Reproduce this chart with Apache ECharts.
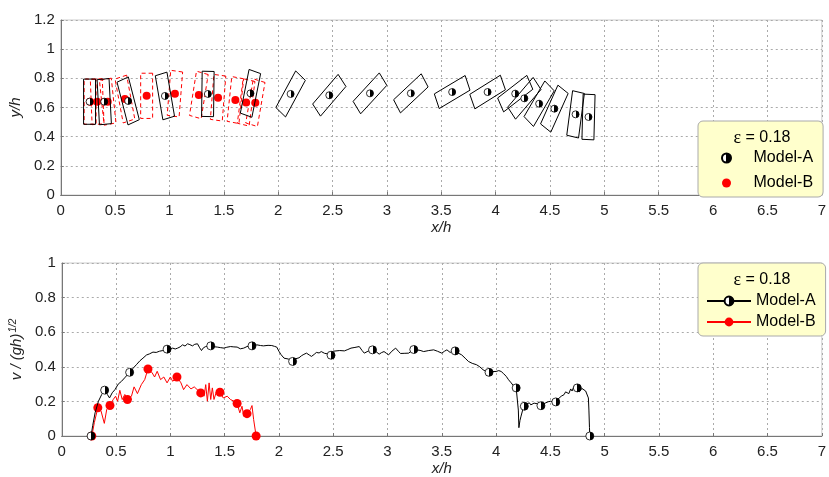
<!DOCTYPE html>
<html>
<head>
<meta charset="utf-8">
<script src="https://cdn.jsdelivr.net/npm/echarts@6/dist/echarts.min.js"></script>
<style>
  html, body { margin: 0; padding: 0; background: #fff; }
  #chart { width: 829px; height: 477px; }
</style>
</head>
<body>
<div id="chart"></div>
<script>
// plate centres [x/h, y/h, tilt in degrees from vertical, + = top leaning right]
const plateA = [
  [0.265, 0.64, 0], [0.40, 0.64, -4], [0.62, 0.645, -19], [0.958, 0.679, -13],
  [1.353, 0.693, 1], [1.745, 0.697, 15], [2.114, 0.693, 36], [2.47, 0.684, 49],
  [2.844, 0.697, 51], [3.22, 0.697, 55], [3.60, 0.706, 66], [3.926, 0.706, 65],
  [4.18, 0.695, 60], [4.264, 0.663, 49], [4.40, 0.626, 38], [4.54, 0.592, 31],
  [4.735, 0.553, 10], [4.854, 0.535, 2]
];
const plateB = [
  [0.27, 0.64, 0], [0.335, 0.64, -3], [0.432, 0.64, -8], [0.59, 0.658, -14],
  [0.79, 0.68, 0], [1.05, 0.695, 6], [1.27, 0.686, 12], [1.447, 0.667, 6],
  [1.606, 0.651, 8], [1.705, 0.635, 10], [1.79, 0.633, 13]
];

// velocity curves [x/h, v/(gh)^1/2]
const lineA = [
  [0.27, 0], [0.285, 0.06], [0.307, 0.134], [0.338, 0.201], [0.368, 0.24], [0.395, 0.265],
  [0.42, 0.24], [0.44, 0.22], [0.465, 0.25], [0.49, 0.268], [0.52, 0.3], [0.55, 0.316],
  [0.585, 0.34], [0.625, 0.368], [0.655, 0.39], [0.687, 0.412], [0.72, 0.435], [0.748, 0.45],
  [0.78, 0.468], [0.809, 0.475], [0.84, 0.485], [0.87, 0.483], [0.9, 0.49], [0.931, 0.494],
  [0.97, 0.502], [1.0, 0.505], [1.022, 0.508], [1.045, 0.503], [1.067, 0.508], [1.09, 0.515],
  [1.113, 0.527], [1.135, 0.52], [1.159, 0.533], [1.18, 0.528], [1.204, 0.521], [1.225, 0.53],
  [1.25, 0.533], [1.27, 0.51], [1.287, 0.494], [1.305, 0.51], [1.326, 0.517], [1.372, 0.521],
  [1.40, 0.516], [1.432, 0.514], [1.46, 0.511], [1.494, 0.508], [1.52, 0.513], [1.554, 0.517],
  [1.585, 0.515], [1.615, 0.514], [1.645, 0.504], [1.676, 0.508], [1.706, 0.517], [1.73, 0.52],
  [1.752, 0.521], [1.775, 0.524], [1.797, 0.527], [1.83, 0.523], [1.858, 0.521], [1.9, 0.524],
  [1.934, 0.523], [1.96, 0.518], [1.98, 0.514], [2.0, 0.49], [2.02, 0.47], [2.047, 0.45],
  [2.065, 0.44], [2.086, 0.445], [2.105, 0.438], [2.126, 0.431], [2.145, 0.445], [2.162, 0.456],
  [2.185, 0.452], [2.208, 0.464], [2.23, 0.472], [2.254, 0.479], [2.28, 0.468], [2.30, 0.46],
  [2.325, 0.472], [2.345, 0.483], [2.37, 0.48], [2.39, 0.488], [2.42, 0.478], [2.445, 0.475],
  [2.465, 0.47], [2.48, 0.467], [2.50, 0.49], [2.512, 0.492], [2.56, 0.494], [2.603, 0.492],
  [2.635, 0.5], [2.664, 0.508], [2.70, 0.512], [2.74, 0.517], [2.765, 0.495], [2.786, 0.479],
  [2.82, 0.49], [2.862, 0.498], [2.89, 0.49], [2.923, 0.473], [2.945, 0.482], [2.968, 0.488],
  [2.99, 0.478], [3.01, 0.469], [3.04, 0.49], [3.075, 0.508], [3.10, 0.49], [3.12, 0.477],
  [3.16, 0.478], [3.196, 0.479], [3.22, 0.492], [3.242, 0.5], [3.27, 0.497], [3.30, 0.495],
  [3.333, 0.488], [3.38, 0.494], [3.425, 0.498], [3.46, 0.49], [3.50, 0.479], [3.525, 0.49],
  [3.547, 0.498], [3.577, 0.483], [3.60, 0.49], [3.623, 0.492], [3.65, 0.48], [3.683, 0.469],
  [3.715, 0.45], [3.745, 0.431], [3.78, 0.42], [3.82, 0.412], [3.85, 0.4], [3.88, 0.383],
  [3.91, 0.372], [3.935, 0.368], [3.97, 0.373], [4.0, 0.373], [4.025, 0.378], [4.047, 0.373],
  [4.07, 0.36], [4.093, 0.345], [4.115, 0.325], [4.139, 0.307], [4.16, 0.29], [4.185, 0.278],
  [4.2, 0.268], [4.205, 0.15], [4.21, 0.048], [4.22, 0.09], [4.23, 0.115], [4.245, 0.15],
  [4.26, 0.172], [4.285, 0.185], [4.306, 0.192], [4.32, 0.18], [4.336, 0.172], [4.35, 0.19],
  [4.367, 0.201], [4.39, 0.185], [4.413, 0.175], [4.435, 0.185], [4.458, 0.192], [4.48, 0.198],
  [4.504, 0.201], [4.527, 0.196], [4.55, 0.197], [4.565, 0.21], [4.58, 0.22], [4.6, 0.23],
  [4.626, 0.239], [4.64, 0.255], [4.656, 0.259], [4.67, 0.245], [4.687, 0.272], [4.70, 0.26],
  [4.717, 0.287], [4.73, 0.27], [4.748, 0.278], [4.765, 0.255], [4.778, 0.259], [4.79, 0.275],
  [4.808, 0.278], [4.825, 0.26], [4.839, 0.249], [4.85, 0.22], [4.855, 0.15], [4.86, 0.05],
  [4.863, 0]
];
const markA = [
  [0.27, 0], [0.395, 0.265], [0.625, 0.368], [0.97, 0.502], [1.372, 0.521], [1.752, 0.521],
  [2.126, 0.431], [2.48, 0.467], [2.862, 0.498], [3.242, 0.5], [3.623, 0.492], [3.935, 0.368],
  [4.185, 0.278], [4.26, 0.172], [4.413, 0.175], [4.55, 0.197], [4.748, 0.278], [4.863, 0]
];
const lineB = [
  [0.277, 0], [0.30, 0.077], [0.332, 0.163], [0.362, 0.144], [0.392, 0.073], [0.414, 0.153],
  [0.444, 0.176], [0.474, 0.211], [0.496, 0.23], [0.514, 0.201], [0.535, 0.264], [0.557, 0.211],
  [0.581, 0.24], [0.605, 0.211], [0.642, 0.23], [0.666, 0.284], [0.697, 0.245], [0.733, 0.297],
  [0.764, 0.326], [0.794, 0.387], [0.83, 0.368], [0.855, 0.341], [0.879, 0.374], [0.91, 0.326],
  [0.94, 0.341], [0.97, 0.307], [1.0, 0.341], [1.022, 0.316], [1.061, 0.341], [1.098, 0.307],
  [1.122, 0.268], [1.153, 0.297], [1.19, 0.272], [1.22, 0.284], [1.28, 0.249], [1.311, 0.23],
  [1.326, 0.297], [1.341, 0.201], [1.357, 0.307], [1.372, 0.211], [1.387, 0.278], [1.402, 0.211],
  [1.426, 0.259], [1.457, 0.253], [1.487, 0.22], [1.524, 0.23], [1.554, 0.211], [1.585, 0.201],
  [1.615, 0.188], [1.64, 0.134], [1.66, 0.172], [1.676, 0.115], [1.706, 0.129], [1.737, 0.153],
  [1.752, 0.176], [1.767, 0.096], [1.782, 0.096], [1.79, 0]
];
const markB = [
  [0.277, 0], [0.332, 0.163], [0.444, 0.176], [0.605, 0.211], [0.794, 0.387], [1.061, 0.341],
  [1.28, 0.249], [1.457, 0.253], [1.615, 0.188], [1.706, 0.129], [1.79, 0]
];

const legendNames = { vA: 'Model-A', vB: 'Model-B' };
const epsText = '{e|ε} = 0.18';

// plate size in data units
const PLATE_L = 0.31;
const PLATE_T = 0.11;

const FONT = 'Liberation Sans, Arial, sans-serif';
const AXIS_COLOR = '#777';

// half white / half black circle like the matlab marker
const halfFill = {
  type: 'linear', x: 0, y: 0, x2: 1, y2: 0,
  colorStops: [
    { offset: 0, color: '#fff' }, { offset: 0.5, color: '#fff' },
    { offset: 0.5, color: '#000' }, { offset: 1, color: '#000' }
  ]
};

function plateRenderer(color, dash) {
  return function (params, api) {
    const cx = api.value(0), cy = api.value(1);
    const a = api.value(2) * Math.PI / 180;
    const ux = Math.sin(a) * PLATE_L / 2, uy = Math.cos(a) * PLATE_L / 2;
    const px = Math.cos(a) * PLATE_T / 2, py = -Math.sin(a) * PLATE_T / 2;
    const pts = [
      api.coord([cx + ux + px, cy + uy + py]),
      api.coord([cx + ux - px, cy + uy - py]),
      api.coord([cx - ux - px, cy - uy - py]),
      api.coord([cx - ux + px, cy - uy + py])
    ];
    return {
      type: 'polygon',
      shape: { points: pts },
      style: { fill: 'none', stroke: color, lineWidth: 1, lineDash: dash }
    };
  };
}

function xAxis(idx) {
  return {
    gridIndex: idx, type: 'value', min: 0, max: 7, interval: 0.5,
    name: 'x/h', nameLocation: 'middle', nameGap: 25,
    nameTextStyle: { fontStyle: 'italic', fontSize: 15, color: '#222', fontFamily: FONT },
    axisLine: { lineStyle: { color: AXIS_COLOR } },
    axisTick: { inside: true, length: 3, lineStyle: { color: AXIS_COLOR } },
    axisLabel: { fontSize: 15, color: '#222', fontFamily: FONT, margin: 8, showMaxLabel: true },
    splitLine: { show: true, lineStyle: { color: '#aaa', type: [2, 3], width: 1 } }
  };
}

function yAxis(idx, max, name, rich) {
  return {
    gridIndex: idx, type: 'value', min: 0, max: max, interval: 0.2,
    name: name, nameLocation: 'middle', nameGap: 30,
    nameTextStyle: { fontStyle: 'italic', fontSize: 15, color: '#222', fontFamily: FONT, rich: rich },
    axisLine: { show: true, lineStyle: { color: AXIS_COLOR } },
    axisTick: { show: true, inside: true, length: 3, lineStyle: { color: AXIS_COLOR } },
    axisLabel: { fontSize: 15, color: '#222', fontFamily: FONT, margin: 6 },
    splitLine: { show: true, lineStyle: { color: '#aaa', type: [2, 3], width: 1 } }
  };
}

function legendBox(top, names, pad, itemH, gap, formatter) {
  return {
    orient: 'vertical', left: 698, top: top,
    data: names,
    formatter: formatter,
    itemWidth: 44, itemHeight: itemH, itemGap: gap,
    padding: pad,
    backgroundColor: '#ffffcc', borderColor: '#aaa', borderWidth: 1, borderRadius: 5,
    textStyle: { fontSize: 16, color: '#000', fontFamily: FONT },
    selectedMode: false
  };
}

function epsLabel(y) {
  return {
    type: 'text', x: 762, y: y, z: 100,
    style: {
      text: epsText, textAlign: 'center', verticalAlign: 'middle',
      fontSize: 16, fontFamily: FONT, fill: '#000',
      rich: { e: { fontFamily: 'Liberation Serif, serif', fontSize: 18, fill: '#000' } }
    }
  };
}

const chart = echarts.init(document.getElementById('chart'), null, { renderer: 'canvas' });

const option = {
  animation: false,
  backgroundColor: '#fff',
  grid: [
    { left: 58, right: 4, top: 20, height: 175, show: true, borderColor: '#ccc', borderWidth: 1 },
    { left: 58, right: 4, top: 263, height: 174, show: true, borderColor: '#ccc', borderWidth: 1 }
  ],
  xAxis: [xAxis(0), xAxis(1)],
  yAxis: [
    yAxis(0, 1.2, 'y/h'),
    yAxis(1, 1, '{i|v} / ({i|gh}){s|1/2}', {
      i: { fontStyle: 'italic', fontSize: 15, fontFamily: FONT, color: '#222' },
      s: { fontSize: 10, fontFamily: FONT, color: '#222', verticalAlign: 'top', padding: [0, 0, 7, 1] }
    })
  ],
  legend: [
    legendBox(121, ['Model-A', 'Model-B'], [29, 10, 6, 23], 9, 9),
    legendBox(263, ['vA', 'vB'], [30, 10, 6, 8], 11, 5, function (n) { return legendNames[n]; })
  ],
  graphic: [epsLabel(138), epsLabel(280)],
  series: [
    {
      name: 'Model-A', type: 'scatter', xAxisIndex: 0, yAxisIndex: 0,
      data: plateA.map(function (p) { return [p[0], p[1]]; }),
      symbolSize: 7, z: 5,
      itemStyle: { color: halfFill, borderColor: '#000', borderWidth: 0.8, opacity: 1 }
    },
    {
      name: 'Model-B', type: 'scatter', xAxisIndex: 0, yAxisIndex: 0,
      data: plateB.map(function (p) { return [p[0], p[1]]; }),
      symbolSize: 8, z: 3,
      itemStyle: { color: '#ff0000', opacity: 1 }
    },
    {
      name: 'platesB', type: 'custom', xAxisIndex: 0, yAxisIndex: 0,
      data: plateB, renderItem: plateRenderer('#ff0000', [4, 3]), z: 2
    },
    {
      name: 'platesA', type: 'custom', xAxisIndex: 0, yAxisIndex: 0,
      data: plateA, renderItem: plateRenderer('#000', null), z: 4
    },
    {
      name: 'vA', type: 'line', xAxisIndex: 1, yAxisIndex: 1,
      data: lineA, showSymbol: false, symbol: 'circle', symbolSize: 8, z: 4,
      lineStyle: { color: '#000', width: 1 },
      itemStyle: { color: halfFill, borderColor: '#000', borderWidth: 0.8 }
    },
    {
      name: 'vA', type: 'scatter', xAxisIndex: 1, yAxisIndex: 1,
      data: markA, symbolSize: 8, z: 5,
      itemStyle: { color: halfFill, borderColor: '#000', borderWidth: 0.8, opacity: 1 }
    },
    {
      name: 'vB', type: 'line', xAxisIndex: 1, yAxisIndex: 1,
      data: lineB, showSymbol: false, symbol: 'circle', symbolSize: 9, z: 2,
      lineStyle: { color: '#ff0000', width: 1 },
      itemStyle: { color: '#ff0000' }
    },
    {
      name: 'vB', type: 'scatter', xAxisIndex: 1, yAxisIndex: 1,
      data: markB, symbolSize: 9, z: 3,
      itemStyle: { color: '#ff0000', opacity: 1 }
    }
  ]
};

chart.setOption(option);
</script>
</body>
</html>
